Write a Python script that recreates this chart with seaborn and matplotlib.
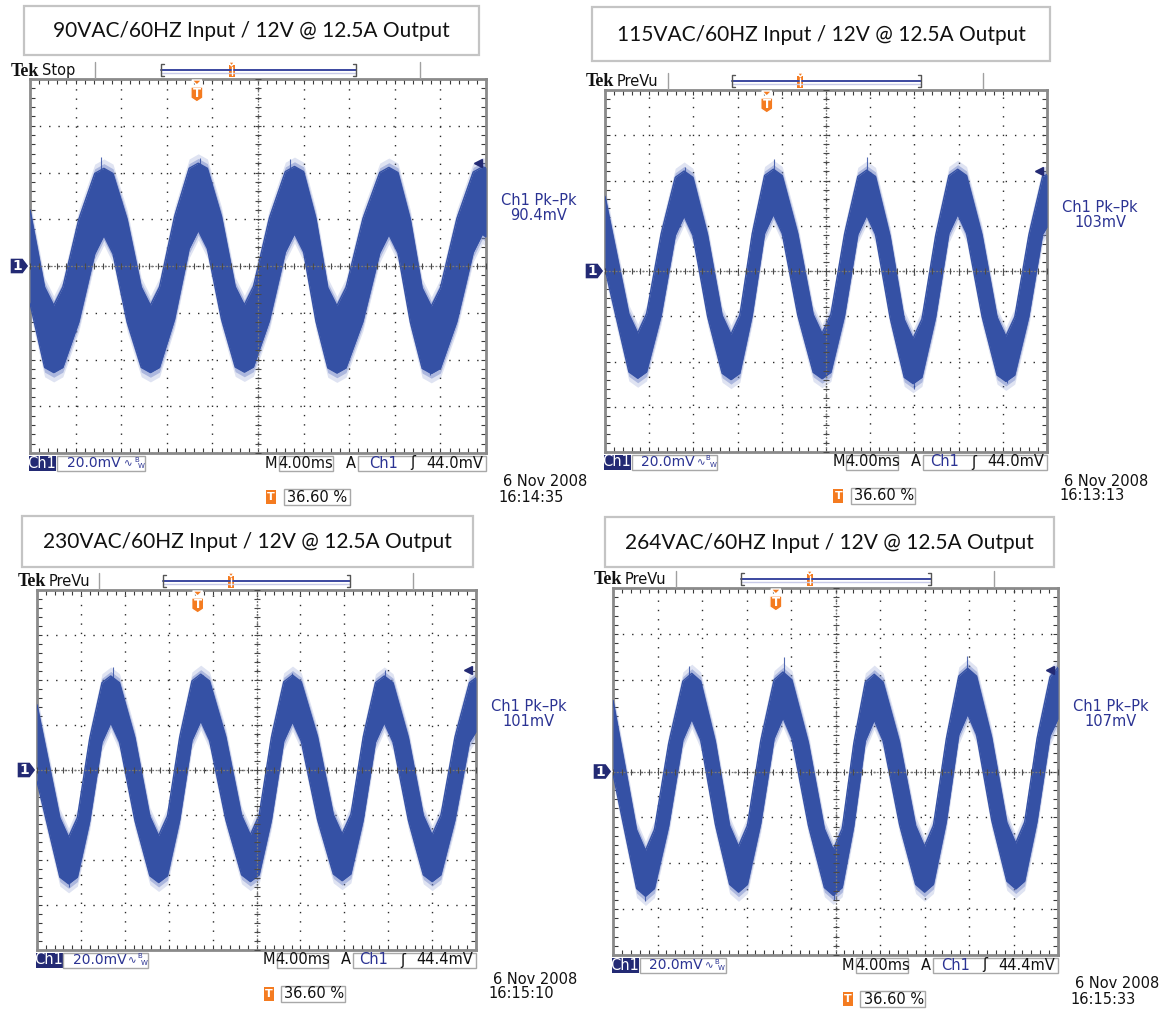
import numpy as np
import matplotlib
matplotlib.use("Agg")
import matplotlib.pyplot as plt
from matplotlib.patches import Rectangle, Polygon
from matplotlib.ticker import MultipleLocator
import seaborn as sns

# ---------------- data ----------------
TITLES = [
    "90VAC/60HZ Input / 12V @ 12.5A Output",
    "115VAC/60HZ Input / 12V @ 12.5A Output",
    "230VAC/60HZ Input / 12V @ 12.5A Output",
    "264VAC/60HZ Input / 12V @ 12.5A Output",
]
MODES = ["Stop", "PreVu", "PreVu", "PreVu"]
PKPK_LABELS = ["90.4mV", "103mV", "101mV", "107mV"]
TRIG_LEVEL_MV = [44.0, 44.0, 44.4, 44.4]
VOLT_DIV_MV = 20.0
TIME_DIV_MS = 4.0
TRIG_POS_PCT = 36.60
DATES = ["6 Nov 2008", "6 Nov 2008", "6 Nov 2008", "6 Nov 2008"]
CLOCKS = ["16:14:35", "16:13:13", "16:15:10", "16:15:33"]

# ripple centre line and half band height, in screen divisions
TRACE_90_T = [0.00, 0.32, 0.52, 0.72, 1.07, 1.42, 1.62, 1.82, 2.13, 2.44, 2.64, 2.84,
              3.17, 3.49, 3.69, 3.89, 4.20, 4.50, 4.70, 4.90, 5.25, 5.60, 5.80, 6.00,
              6.27, 6.53, 6.73, 6.93, 7.30, 7.67, 7.87, 8.07, 8.34, 8.60, 8.80, 9.00,
              9.36, 9.72, 9.92, 10.0]
TRACE_90_V = [0.20, -1.31, -1.56, -1.31, -0.10, 1.12, 1.37, 1.12, -0.10, -1.31, -1.56, -1.31,
              -0.04, 1.23, 1.48, 1.23, -0.04, -1.30, -1.55, -1.30, -0.07, 1.16, 1.41, 1.16,
              -0.08, -1.32, -1.57, -1.32, -0.09, 1.14, 1.39, 1.14, -0.10, -1.33, -1.58, -1.33,
              -0.09, 1.15, 1.40, 1.36]
TRACE_90_H = [1.00, 0.86, 0.72, 0.86, 1.10, 0.86, 0.72, 0.86, 1.10, 0.86, 0.72, 0.86,
              1.10, 0.86, 0.72, 0.86, 1.10, 0.86, 0.72, 0.86, 1.10, 0.86, 0.72, 0.86,
              1.10, 0.86, 0.72, 0.86, 1.10, 0.86, 0.72, 0.86, 1.10, 0.86, 0.72, 0.86,
              1.10, 0.86, 0.72, 0.74]
TRACE_115_T = [0.00, 0.54, 0.74, 0.94, 1.27, 1.59, 1.79, 1.99, 2.32, 2.65, 2.85, 3.05,
               3.33, 3.61, 3.81, 4.01, 4.36, 4.71, 4.91, 5.11, 5.42, 5.72, 5.92, 6.12,
               6.45, 6.77, 6.97, 7.17, 7.48, 7.78, 7.98, 8.18, 8.53, 8.87, 9.07, 9.27,
               9.59, 9.90, 10.0]
TRACE_115_V = [0.85, -1.59, -1.87, -1.59, -0.08, 1.43, 1.71, 1.43, -0.10, -1.62, -1.90, -1.62,
               -0.08, 1.47, 1.75, 1.47, -0.07, -1.60, -1.88, -1.60, -0.08, 1.45, 1.73, 1.45,
               -0.13, -1.71, -1.99, -1.71, -0.12, 1.47, 1.75, 1.47, -0.10, -1.66, -1.94, -1.66,
               -0.10, 1.45, 1.55]
TRACE_115_H = [0.80, 0.64, 0.50, 0.64, 0.90, 0.64, 0.50, 0.64, 0.90, 0.64, 0.50, 0.64,
               0.90, 0.64, 0.50, 0.64, 0.90, 0.64, 0.50, 0.64, 0.90, 0.64, 0.50, 0.64,
               0.90, 0.64, 0.50, 0.64, 0.90, 0.64, 0.50, 0.64, 0.90, 0.64, 0.50, 0.64,
               0.90, 0.64, 0.58]
TRACE_230_T = [0.00, 0.52, 0.72, 0.92, 1.20, 1.48, 1.68, 1.88, 2.23, 2.57, 2.77, 2.97,
               3.25, 3.53, 3.73, 3.93, 4.30, 4.66, 4.86, 5.06, 5.34, 5.62, 5.82, 6.02,
               6.39, 6.75, 6.95, 7.15, 7.43, 7.71, 7.91, 8.11, 8.46, 8.80, 9.00, 9.20,
               9.52, 9.85, 10.0]
TRACE_230_V = [0.60, -1.72, -2.01, -1.72, -0.22, 1.28, 1.57, 1.28, -0.20, -1.69, -1.98, -1.69,
               -0.19, 1.32, 1.61, 1.32, -0.18, -1.67, -1.96, -1.67, -0.19, 1.30, 1.59, 1.30,
               -0.18, -1.65, -1.94, -1.65, -0.19, 1.28, 1.57, 1.28, -0.20, -1.67, -1.96, -1.67,
               -0.19, 1.28, 1.45]
TRACE_230_H = [0.85, 0.66, 0.52, 0.66, 0.92, 0.66, 0.52, 0.66, 0.92, 0.66, 0.52, 0.66,
               0.92, 0.66, 0.52, 0.66, 0.92, 0.66, 0.52, 0.66, 0.92, 0.66, 0.52, 0.66,
               0.92, 0.66, 0.52, 0.66, 0.92, 0.66, 0.52, 0.66, 0.92, 0.66, 0.52, 0.66,
               0.92, 0.66, 0.60]
TRACE_264_T = [0.00, 0.53, 0.73, 0.93, 1.25, 1.57, 1.77, 1.97, 2.30, 2.62, 2.82, 3.02,
               3.32, 3.62, 3.82, 4.02, 4.39, 4.75, 4.95, 5.15, 5.41, 5.67, 5.87, 6.07,
               6.44, 6.80, 7.00, 7.20, 7.49, 7.77, 7.97, 8.17, 8.51, 8.85, 9.05, 9.25,
               9.53, 9.82, 10.0]
TRACE_264_V = [0.75, -1.91, -2.22, -1.91, -0.29, 1.33, 1.64, 1.33, -0.25, -1.82, -2.13, -1.82,
               -0.23, 1.36, 1.67, 1.36, -0.27, -1.89, -2.20, -1.89, -0.29, 1.31, 1.62, 1.31,
               -0.26, -1.82, -2.13, -1.82, -0.19, 1.44, 1.75, 1.44, -0.16, -1.75, -2.06, -1.75,
               -0.18, 1.42, 1.71]
TRACE_264_H = [0.80, 0.64, 0.50, 0.64, 0.90, 0.64, 0.50, 0.64, 0.90, 0.64, 0.50, 0.64,
               0.90, 0.64, 0.50, 0.64, 0.90, 0.64, 0.50, 0.64, 0.90, 0.64, 0.50, 0.64,
               0.90, 0.64, 0.50, 0.64, 0.90, 0.64, 0.50, 0.64, 0.90, 0.64, 0.50, 0.64,
               0.90, 0.64, 0.56]
# isolated noise spikes (time div, tip volt div)
SPIKES_90_T = [1.55, 3.72, 5.70, 8.78]
SPIKES_90_V = [2.34, 2.30, 2.28, -2.33]
SPIKES_115_T = [3.83, 5.92, 6.98, 9.10, 1.80]
SPIKES_115_V = [2.47, 2.52, -2.60, -2.48, 2.30]
SPIKES_230_T = [1.72, 3.78, 5.80, 0.74, 7.92]
SPIKES_230_V = [2.28, 2.12, 2.16, -2.60, 2.22]
SPIKES_264_T = [3.85, 7.95, 0.72, 4.97, 1.70]
SPIKES_264_V = [2.50, 2.52, -2.82, -2.80, 2.30]

TRACES = [(TRACE_90_T, TRACE_90_V, TRACE_90_H), (TRACE_115_T, TRACE_115_V, TRACE_115_H),
          (TRACE_230_T, TRACE_230_V, TRACE_230_H), (TRACE_264_T, TRACE_264_V, TRACE_264_H)]
SPIKES = [(SPIKES_90_T, SPIKES_90_V), (SPIKES_115_T, SPIKES_115_V),
          (SPIKES_230_T, SPIKES_230_V), (SPIKES_264_T, SPIKES_264_V)]

# ---------------- layout (pixels, origin top-left) ----------------
W, H = 1164, 1009
SCREENS = [(30, 79, 486, 453), (605, 90, 1047, 452), (37, 590, 476, 950), (613, 588, 1058, 955)]
TITLE_BOXES = [(24, 6, 479, 55, 31), (592, 7, 1050, 61, 35), (22, 516, 473, 567, 542), (605, 517, 1054, 567, 543)]
TITLE_WIDTHS = [398, 409, 408, 410]

NAVY = "#2B3393"
NAVY_BOX = "#232A74"
ORANGE = "#F47B20"
TRACE_CORE = "#3551A5"
TRACE_HALO = "#6E82C6"
BOX_EDGE = "#A8A8A8"

sns.set_style("white")
plt.rcParams["font.family"] = ["DejaVu Sans"]

fig = plt.figure(figsize=(W / 100, H / 100), dpi=100)
fig.patch.set_facecolor("white")

overlay = fig.add_axes([0, 0, 1, 1], zorder=5)
overlay.set_xlim(0, W)
overlay.set_ylim(H, 0)
overlay.axis("off")
overlay.patch.set_alpha(0)


def draw_screen(i):
    l, t, r, b = SCREENS[i]
    ax = fig.add_axes([l / W, 1 - b / H, (r - l) / W, (b - t) / H], zorder=2)
    xmax = 10 * TIME_DIV_MS
    ymax = 4 * VOLT_DIV_MV
    ax.set_xlim(0, xmax)
    ax.set_ylim(-ymax, ymax)
    ax.set_facecolor("white")
    ax.xaxis.set_major_locator(MultipleLocator(TIME_DIV_MS))
    ax.yaxis.set_major_locator(MultipleLocator(VOLT_DIV_MV))
    ax.xaxis.set_minor_locator(MultipleLocator(TIME_DIV_MS / 5))
    ax.yaxis.set_minor_locator(MultipleLocator(VOLT_DIV_MV / 5))
    ax.tick_params(which="both", direction="in", top=True, right=True, bottom=True, left=True,
                   labelbottom=False, labelleft=False, length=3.5, width=0.8, color="#3a3a3a")
    ax.set_axisbelow(True)
    ax.grid(True, which="major", color="#2a2a2a", lw=1.0, ls=(0, (1, 5.7)))
    for s in ax.spines.values():
        s.set_color("#8a8a8a")
        s.set_linewidth(2.0)

    tt = np.array(TRACES[i][0]) * TIME_DIV_MS
    vv = np.array(TRACES[i][1]) * VOLT_DIV_MV
    hh = np.array(TRACES[i][2]) * VOLT_DIV_MV
    ax.fill_between(tt, vv - hh - 4.0, vv + hh + 4.0, color=TRACE_HALO, alpha=0.22, lw=0, zorder=2)
    ax.fill_between(tt, vv - hh - 2.0, vv + hh + 2.0, color=TRACE_HALO, alpha=0.45, lw=0, zorder=2)
    ax.fill_between(tt, vv - hh, vv + hh, color=TRACE_CORE, lw=0, zorder=3)
    sns.lineplot(x=tt, y=vv + hh, ax=ax, color=TRACE_CORE, lw=1.0, zorder=3)
    sns.lineplot(x=tt, y=vv - hh, ax=ax, color=TRACE_CORE, lw=1.0, zorder=3)

    st = np.array(SPIKES[i][0]) * TIME_DIV_MS
    sv = np.array(SPIKES[i][1]) * VOLT_DIV_MV
    base = np.interp(st, tt, vv)
    ax.vlines(st, base, sv, color=TRACE_CORE, lw=0.8, alpha=0.85, zorder=3)

    # centre graticule with ruler ticks
    ax.axhline(0, color="#7a7a7a", lw=0.9, ls=(0, (1.5, 1.2)), zorder=4)
    ax.axvline(xmax / 2, color="#7a7a7a", lw=0.9, ls=(0, (1.5, 1.2)), zorder=4)
    xt = np.arange(0, xmax + 1e-6, TIME_DIV_MS / 5)
    ax.plot(xt, np.zeros_like(xt), ls="none", marker="|", ms=5, mew=0.8, color="#4a4a4a", zorder=4)
    yt = np.arange(-ymax, ymax + 1e-6, VOLT_DIV_MV / 5)
    ax.plot(np.full_like(yt, xmax / 2), yt, ls="none", marker="_", ms=5, mew=0.8, color="#4a4a4a", zorder=4)

    # trigger level indicator on the right edge
    ax.plot([xmax - 0.7], [TRIG_LEVEL_MV[i]], marker="<", ms=6, color=NAVY_BOX, zorder=6, clip_on=False)
    ax.set_xlabel("")
    ax.set_ylabel("")
    return ax


def fit_text(x, y, s, target_w, **kw):
    txt = overlay.text(x, y, s, **kw)
    renderer = fig.canvas.get_renderer()
    bb = txt.get_window_extent(renderer=renderer)
    txt.set_fontsize(kw.get("fontsize", 10) * target_w / bb.width)
    return txt


def decorate(i):
    l, t, r, b = SCREENS[i]
    w = r - l
    dh = w / 10.0
    yc = (t + b) / 2.0

    # title box
    bx0, by0, bx1, by1, ty = TITLE_BOXES[i]
    overlay.add_patch(Rectangle((bx0, by0), bx1 - bx0, by1 - by0, facecolor="white",
                                edgecolor="#C4C4C4", lw=1.6))
    fit_text((bx0 + bx1) / 2, ty, TITLES[i], TITLE_WIDTHS[i], ha="center", va="center",
             fontsize=16, family="Lato", color="#111111")

    # header strip
    hy = t - 8
    overlay.text(l - 19, hy, "Tek", family="Liberation Serif", fontweight="bold", fontsize=13,
                 ha="left", va="center", color="#111111")
    overlay.text(l + 12, hy - 1, MODES[i], fontsize=10.5, ha="left", va="center", color="#111111")
    for fx_ in (1.42, 8.56):
        xs = l + fx_ * dh
        overlay.plot([xs, xs], [t - 17, t - 1], color="#a0a0a0", lw=1.0)
    x0, x1 = l + 2.87 * dh, l + 7.14 * dh
    overlay.plot([x0, x1], [hy - 1, hy - 1], color="#3B47A0", lw=1.4)
    overlay.plot([x0, x1], [hy + 1.5, hy + 1.5], color="#C8CBE8", lw=1.0)
    for xe, d in ((x0, 3), (x1, -3)):
        overlay.plot([xe + d, xe, xe, xe + d], [t - 15, t - 15, t - 3, t - 3], color="#555555", lw=1.0)
    xm = l + 4.42 * dh
    overlay.add_patch(Rectangle((xm - 3, t - 14), 6, 12, facecolor=ORANGE, edgecolor="none"))
    overlay.add_patch(Polygon([(xm - 3, t - 17), (xm + 3, t - 17), (xm, t - 13)], facecolor=ORANGE))
    overlay.plot([xm, xm], [t - 12, t - 4], color="white", lw=1.0)

    # trigger position marker
    xt = l + TRIG_POS_PCT / 100.0 * w
    overlay.add_patch(Polygon([(xt - 5, t + 1), (xt + 5, t + 1), (xt, t + 6)], facecolor=ORANGE))
    overlay.add_patch(Polygon([(xt - 6, t + 8), (xt + 6, t + 8), (xt + 6, t + 19), (xt, t + 23),
                               (xt - 6, t + 19)], facecolor=ORANGE))
    overlay.text(xt, t + 14.5, "T", color="white", fontsize=8.5, fontweight="bold", ha="center", va="center")

    # channel ground marker
    overlay.add_patch(Polygon([(l - 20, yc - 8), (l - 7, yc - 8), (l - 1, yc), (l - 7, yc + 8),
                               (l - 20, yc + 8)], facecolor=NAVY_BOX))
    overlay.text(l - 12.5, yc, "1", color="white", fontsize=10, fontweight="bold", ha="center", va="center")

    # measurement readout
    my = t + 2.59 * (b - t) / 8.0
    overlay.text(r + 53, my, "Ch1 Pk\u2013Pk", color=NAVY, fontsize=10.5, ha="center", va="center")
    overlay.text(r + 53, my + 15, PKPK_LABELS[i], color=NAVY, fontsize=10.5, ha="center", va="center")

    # status row under the screen
    ry = b + 10
    bh = 15
    overlay.add_patch(Rectangle((l - 1.5, ry - bh / 2), 27, bh, facecolor=NAVY_BOX, edgecolor="none"))
    overlay.text(l + 12, ry, "Ch1", color="white", fontsize=10.5, ha="center", va="center")
    overlay.add_patch(Rectangle((l + 0.06 * w, ry - bh / 2), 0.193 * w, bh, facecolor="white",
                                edgecolor=BOX_EDGE, lw=1.0))
    overlay.text(l + 0.082 * w, ry, f"{VOLT_DIV_MV:.1f}mV", color=NAVY, fontsize=10, ha="left", va="center")
    overlay.text(l + 0.207 * w, ry + 0.5, "\u223f", color=NAVY, fontsize=7.5, ha="left", va="center")
    overlay.text(l + 0.228 * w, ry - 3.5, "B", color=NAVY, fontsize=5, ha="left", va="center")
    overlay.text(l + 0.236 * w, ry + 3, "W", color=NAVY, fontsize=5, ha="left", va="center")
    overlay.text(l + 0.514 * w, ry, "M", color="#111111", fontsize=10.5, ha="left", va="center")
    overlay.add_patch(Rectangle((l + 0.546 * w, ry - bh / 2), 0.118 * w, bh, facecolor="white",
                                edgecolor=BOX_EDGE, lw=1.0))
    overlay.text(l + 0.605 * w, ry, f"{TIME_DIV_MS:.2f}ms", color="#111111", fontsize=10.5,
                 ha="center", va="center")
    overlay.text(l + 0.693 * w, ry, "A", color="#111111", fontsize=10.5, ha="left", va="center")
    overlay.add_patch(Rectangle((l + 0.719 * w, ry - bh / 2), r - (l + 0.719 * w), bh, facecolor="white",
                                edgecolor=BOX_EDGE, lw=1.0))
    overlay.text(r - 117, ry, "Ch1", color=NAVY, fontsize=10.5, ha="left", va="center")
    overlay.text(r - 76, ry, "\u0283", color="#111111", fontsize=10.5, ha="left", va="center")
    overlay.text(r - 3, ry, f"{TRIG_LEVEL_MV[i]:.1f}mV", color="#111111", fontsize=10.5, ha="right", va="center")

    # trigger position readout
    ty2 = b + 44
    xo = l + 0.528 * w
    overlay.add_patch(Rectangle((xo - 5, ty2 - 7), 10, 14, facecolor=ORANGE, edgecolor="none"))
    overlay.text(xo, ty2, "T", color="white", fontsize=8, fontweight="bold", ha="center", va="center")
    overlay.add_patch(Rectangle((l + 0.556 * w, ty2 - 8), 0.146 * w, 16, facecolor="white",
                                edgecolor=BOX_EDGE, lw=1.0))
    overlay.text(l + 0.563 * w, ty2, f"{TRIG_POS_PCT:.2f} %", color="#111111", fontsize=10.5,
                 ha="left", va="center")

    # date / time stamp
    overlay.text(r + 101, b + 29, DATES[i], color="#111111", fontsize=10.5, ha="right", va="center")
    overlay.text(r + 12, b + 44, CLOCKS[i], color="#111111", fontsize=10.5, ha="left", va="center")


for k in range(4):
    draw_screen(k)
    decorate(k)

fig.savefig("out.png", dpi=100, facecolor="white")
